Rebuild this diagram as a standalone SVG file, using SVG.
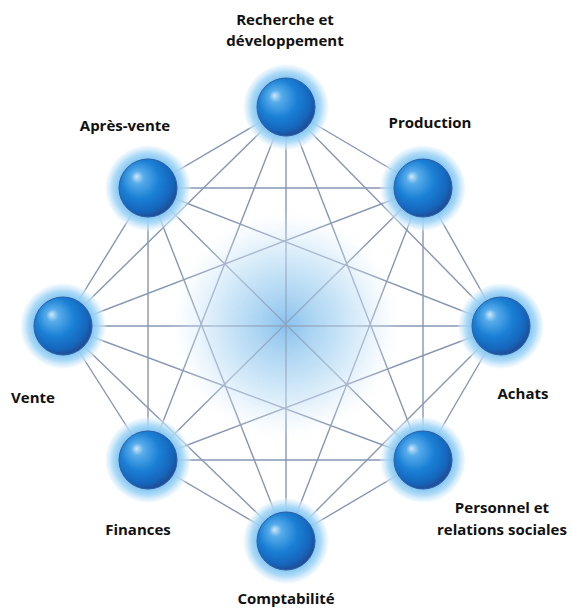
<svg xmlns="http://www.w3.org/2000/svg" width="573" height="609" viewBox="0 0 573 609">
<defs>
<radialGradient id="cglow" cx="0.5" cy="0.5" r="0.5">
<stop offset="0" stop-color="#7fbdec" stop-opacity="1"/>
<stop offset="0.45" stop-color="#b2d8f3" stop-opacity="0.8"/>
<stop offset="0.8" stop-color="#e2f0fb" stop-opacity="0.4"/>
<stop offset="1" stop-color="#ffffff" stop-opacity="0"/>
</radialGradient>
<radialGradient id="cveil" cx="0.5" cy="0.5" r="0.5">
<stop offset="0" stop-color="#a9d4f3" stop-opacity="0.2"/>
<stop offset="0.6" stop-color="#d4eaf9" stop-opacity="0.5"/>
<stop offset="1" stop-color="#ffffff" stop-opacity="0"/>
</radialGradient>
<radialGradient id="halo" cx="0.5" cy="0.5" r="0.5">
<stop offset="0.62" stop-color="#78c1f1" stop-opacity="1"/>
<stop offset="0.8" stop-color="#a6d7f6" stop-opacity="0.9"/>
<stop offset="0.93" stop-color="#d6edfb" stop-opacity="0.55"/>
<stop offset="1" stop-color="#ffffff" stop-opacity="0"/>
</radialGradient>
<radialGradient id="ball" cx="0.42" cy="0.4" r="0.6" fx="0.3" fy="0.3">
<stop offset="0" stop-color="#cfe7f9"/>
<stop offset="0.18" stop-color="#58acea"/>
<stop offset="0.55" stop-color="#1a80d5"/>
<stop offset="0.85" stop-color="#1567bd"/>
<stop offset="1" stop-color="#1f4f98"/>
</radialGradient>
<g id="sphere">
<circle r="44" fill="url(#halo)"/>
<circle r="29" fill="url(#ball)" stroke="#2c5ea4" stroke-width="1"/>
</g>
</defs>
<style>
.lbl{font-family:"Open Sans","Noto Sans",sans-serif;font-weight:bold;font-size:15px;fill:#111;text-anchor:middle}
.ln{stroke:#8796b3;stroke-width:1.4;fill:none}
</style>
<rect width="573" height="609" fill="#ffffff"/>
<circle cx="285.5" cy="325" r="118" fill="url(#cglow)"/>
<g id="connectors" class="ln">
<path d="M286 107L423 188M286 107L501 326M286 107L423 460M286 107L286 541M286 107L148 460M286 107L63 326M286 107L148 188"/>
<path d="M423 188L501 326M423 188L423 460M423 188L286 541M423 188L148 460M423 188L63 326M423 188L148 188"/>
<path d="M501 326L423 460M501 326L286 541M501 326L148 460M501 326L63 326M501 326L148 188"/>
<path d="M423 460L286 541M423 460L148 460M423 460L63 326M423 460L148 188"/>
<path d="M286 541L148 460M286 541L63 326M286 541L148 188"/>
<path d="M148 460L63 326M148 460L148 188"/>
<path d="M63 326L148 188"/>
</g>
<circle cx="285.5" cy="325" r="118" fill="url(#cveil)"/>
<g id="n-rd"><use href="#sphere" x="286" y="107"/><text class="lbl" x="285" y="25">Recherche et</text><text class="lbl" x="285" y="46">développement</text></g>
<g id="n-prod"><use href="#sphere" x="423" y="188"/><text class="lbl" x="430" y="128">Production</text></g>
<g id="n-achats"><use href="#sphere" x="501" y="326"/><text class="lbl" x="523" y="399">Achats</text></g>
<g id="n-pers"><use href="#sphere" x="423" y="460"/><text class="lbl" x="502" y="513">Personnel et</text><text class="lbl" x="502" y="535">relations sociales</text></g>
<g id="n-compta"><use href="#sphere" x="286" y="541"/><text class="lbl" x="286" y="604">Comptabilité</text></g>
<g id="n-fin"><use href="#sphere" x="148" y="460"/><text class="lbl" x="138" y="535">Finances</text></g>
<g id="n-vente"><use href="#sphere" x="63" y="326"/><text class="lbl" x="33" y="403">Vente</text></g>
<g id="n-apv"><use href="#sphere" x="148" y="188"/><text class="lbl" x="125" y="131">Après-vente</text></g>
</svg>
